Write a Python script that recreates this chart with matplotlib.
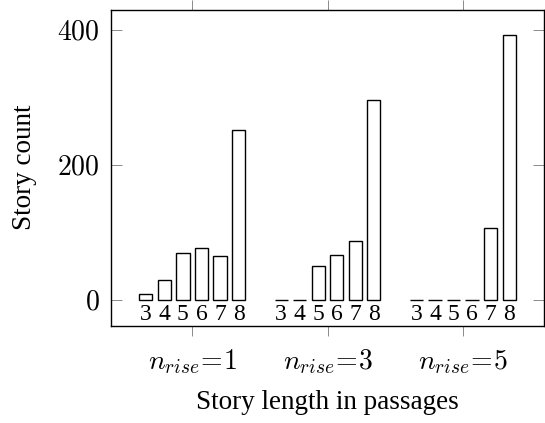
import numpy as np
import matplotlib.pyplot as plt

plt.rcParams['font.family'] = ['Liberation Serif', 'DejaVu Serif']
plt.rcParams['mathtext.fontset'] = 'cm'

lengths = [3, 4, 5, 6, 7, 8]
groups = [r'$n_{rise}\!=\!1$', r'$n_{rise}\!=\!3$', r'$n_{rise}\!=\!5$']
counts_rise1 = [9, 29, 69, 77, 65, 252]
counts_rise3 = [0, 0, 50, 67, 87, 296]
counts_rise5 = [0, 0, 0, 0, 107, 393]
all_counts = [counts_rise1, counts_rise3, counts_rise5]

fig = plt.figure(figsize=(5.45, 4.23), dpi=100)
ax = fig.add_axes([0.2037, 0.2303, 0.7945, 0.7472])

step = 0.137
width = 0.098
offsets = (np.arange(len(lengths)) - (len(lengths) - 1) / 2) * step

for g, counts in enumerate(all_counts):
    xs = g + offsets
    ax.bar(xs, counts, width=width, facecolor='white', edgecolor='black', linewidth=1.0)
    for x, lab in zip(xs, lengths):
        ax.text(x, -22, str(lab), ha='center', va='center', fontsize=17)

ax.set_xlim(-0.6, 2.6)
ax.set_ylim(-38, 431)

ax.set_yticks([0, 200, 400])
ax.set_yticklabels([r'$0$', r'$200$', r'$400$'], fontsize=20)
ax.tick_params(axis='y', direction='in', length=8, width=0.6, color='#777777',
               left=True, right=True, pad=8)

ax.set_xticks(range(len(groups)))
ax.set_xticklabels(groups, fontsize=20)
ax.tick_params(axis='x', direction='out', length=7.5, width=0.6, color='#777777',
               bottom=True, top=True, pad=8)

for s in ax.spines.values():
    s.set_linewidth(1.0)

ax.set_ylabel('Story count', fontsize=19.5)
ax.yaxis.set_label_coords(-0.171, 0.5)
ax.set_xlabel('Story length in passages', fontsize=19.5)
ax.xaxis.set_label_coords(0.5, -0.205)

fig.savefig('out.png', dpi=100)
